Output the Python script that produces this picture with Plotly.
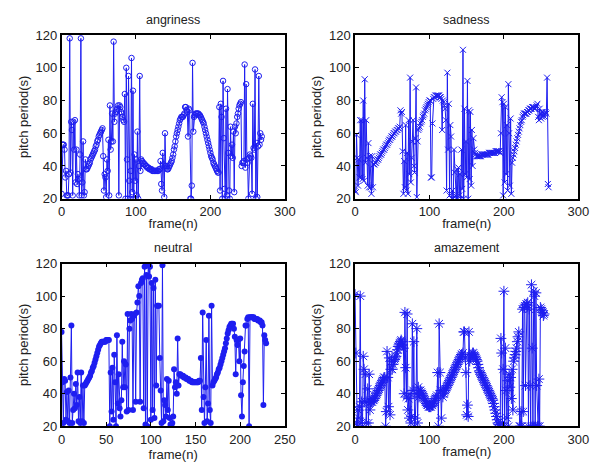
import plotly.graph_objects as go

angriness = [23, 53, 53, 53, 50, 33, 37, 22, 22, 22,
             35, 118, 36, 67, 62, 22, 67, 50, 68, 30,
             50, 29, 35, 32, 22, 47, 118, 22, 30, 55, 22, 24, 44, 38, 38,
             39, 40, 41, 42, 44, 45, 46, 47, 48, 49, 50, 52, 53, 55, 56, 58, 59, 60, 61, 62, 63,
             46, 25, 35, 33, 21, 44, 37, 56, 22, 77, 50, 55, 72, 55,
             116, 67, 72, 73, 74, 75, 77, 22, 77, 76, 73, 72, 70, 68, 67, 84,
             20, 100, 44, 20, 95, 31, 20, 37, 106, 24, 86, 20, 47, 31, 44, 22, 61, 20, 40, 95, 37, 44,
             43, 42, 42, 41, 41, 40, 40, 39, 39, 39, 38, 38, 38, 38, 37, 37, 37, 37, 37, 37, 37, 37, 37, 38, 38,
             43, 29, 25, 48, 41, 21, 60, 40, 39, 38, 38, 39,
             40, 41, 42, 43, 45, 47, 50, 52, 55, 58, 60, 62, 64, 66, 68, 69, 70, 70, 70, 71, 72,
             76, 76, 74, 73, 58, 75, 74, 20, 20, 28, 103, 61,
             70, 71, 72, 72, 72, 72, 72, 71, 71, 70, 69, 68, 67, 66, 64, 62, 60, 58, 56, 54, 52, 50,
             48, 46, 45, 44, 42, 41, 40, 39, 38, 37, 36, 36,
             76, 25, 78, 70, 20, 92, 57, 26, 20, 75, 22, 87, 48, 25, 20, 64, 46, 53, 45, 61,
             24, 64, 60, 66, 70, 72, 75, 77, 78, 79, 40, 42, 42, 43, 102, 39, 90, 44, 42, 20,
             45, 47, 46, 45, 23, 78, 51, 50, 99, 20, 54, 21, 52, 95, 53, 60, 56, 58]

sadness = [25, 24, 59, 45, 28, 44, 33, 68, 33, 68, 32, 80, 31, 93, 42, 68, 45, 28, 54, 27,
           46, 27, 23, 46, 27, 41,
           41, 42, 42, 43, 44, 44, 45, 46, 47, 47, 48, 49, 50, 50, 51, 52, 53, 53, 54, 55,
           56, 56, 57, 58, 58, 59, 60, 60, 61, 61, 62, 62, 63, 63, 64,
           74, 72, 73, 49, 23, 43, 27, 65, 25, 48, 23, 68, 35, 94, 30, 45, 55, 68, 40, 36,
           57, 88, 21, 55, 62,
           63, 64, 66, 67, 68, 70, 71, 72, 74, 75, 76, 77, 78, 79, 80,
           80, 33, 33, 66, 81,
           82, 82, 83, 83, 83, 83, 83, 83, 82, 82, 81,
           62, 80, 79, 77, 75, 68, 25, 97, 50, 78, 22, 65, 58, 20, 25, 20, 50, 36, 22, 20,
           38, 20, 39, 22, 35, 20, 50, 26, 111, 20, 75, 35, 55, 33, 92, 20, 74, 32, 73, 28,
           62, 40, 57, 50, 48,
           47, 46, 46, 46, 46, 46, 46, 46, 47, 47, 47, 47, 47, 47, 47, 47, 47, 47, 48, 48,
           48, 48, 48, 48, 48, 48, 48, 49, 49, 49, 49, 49, 49, 48,
           60, 82, 79, 22, 78, 30, 76, 35, 65, 25, 90, 60, 28, 69, 23, 42,
           45, 47, 49, 51, 53, 55, 57, 59, 61, 63, 65, 67, 68, 70, 71, 72, 72,
           72, 72, 73, 73, 74, 74, 75, 75, 75, 76, 76, 76, 75, 75, 76, 77, 78,
           70, 68, 75, 72, 69, 73, 70, 73, 72, 70, 73, 72, 94, 29, 27]

neutral = [78, 47, 22, 49, 48, 24, 41, 23, 42, 22, 50, 82, 22, 30, 40, 31, 46, 33, 53, 23,
           38, 22, 53, 23, 45, 22, 45,
           46, 47, 48, 49, 50, 51, 53, 54, 56, 57, 59, 61, 63, 65, 67, 69, 70, 71, 72,
           72, 72, 72, 72, 73, 73, 73, 73,
           20, 53, 29, 56, 24, 64, 47, 20, 76, 34, 52, 31, 26, 36, 72, 44, 60, 44, 58, 29,
           89, 30, 80, 85, 89, 86, 30, 88, 89, 35, 90,
           96, 106, 100, 35, 108, 110, 111, 31, 118, 21, 113, 20, 120, 112, 118, 24, 108, 30,
           105, 25, 110, 45, 94, 94, 94, 62, 42, 22, 119, 23,
           36, 33, 26, 49, 30, 48, 25, 21, 20, 22, 26, 55, 44, 47, 40, 74, 45, 52, 52, 51,
           51, 51, 50, 50, 50, 49, 49, 49, 48, 48, 48, 47, 47, 47, 47, 47, 47, 47, 47, 48, 48,
           62, 30, 90, 38, 22, 44, 73, 23, 34, 88, 30, 22, 94, 45, 47, 48, 49,
           50, 52, 53, 55, 56, 58, 60, 62, 64, 66, 68, 71, 74, 77, 79, 81, 82, 83,
           83, 83, 80, 75, 52, 73, 70, 73, 60, 74, 39, 26, 47, 57, 66, 82, 82, 86, 87, 20, 87,
           87, 87, 87, 87, 86, 86, 86, 86, 85, 85, 85, 84, 84, 82,
           33, 76, 73, 71]

amazement = [101, 65, 22, 20, 30, 25, 32, 100, 22, 35, 20, 63, 55, 35, 52, 22, 35, 43, 22, 52, 30,
             35, 35, 35, 36, 36, 37, 38, 39, 40, 41, 42, 43, 44, 45, 46, 47, 48, 49, 50, 50,
             20, 29, 66, 50, 32, 62, 27, 55, 60, 55, 58,
             60, 61, 62, 63, 65, 67, 69, 70, 71, 72, 73, 72, 70, 68,
             40, 90, 56, 38, 89, 30, 37, 25, 40, 22, 26, 83, 42, 72, 20, 25, 40, 80, 22, 44, 38, 40,
             42, 41, 40, 39, 38, 37, 36, 35, 34, 33, 33, 32, 32, 32, 32, 33, 33, 34, 35, 36, 37, 38, 39,
             53, 20, 83, 53, 42, 25, 42, 38,
             40, 41, 42, 43, 44, 45, 46, 47, 48, 49, 50, 51, 52, 53, 54, 55, 56, 57, 58, 59,
             60, 61, 62, 63, 64, 64, 65,
             78, 78, 62, 53, 27, 33, 26, 78, 60, 62,
             63, 64, 65, 65, 64, 63, 62, 61, 60, 58, 56,
             54, 53, 52, 51, 50, 49, 48, 47, 46, 45, 44, 43, 42, 41, 40, 39, 38, 37, 36, 34,
             32, 30, 28, 26, 24, 22, 21, 20, 20,
             74, 65, 22, 55, 103, 20, 68, 42, 25, 48, 20, 52, 44, 50, 37, 55, 30, 60, 62, 64,
             66, 68, 72, 75, 78,
             20, 20, 29, 20, 92, 29, 93, 94, 45, 95, 95, 96, 20, 92, 45, 20, 107, 68, 20, 103,
             100, 20, 102, 45, 20, 20, 49, 20, 93, 92, 91, 90, 88, 89]

titles = ["angriness", "sadness", "neutral", "amazement"]
series = [angriness, sadness, neutral, amazement]
xranges = [[0, 300], [0, 300], [0, 250], [0, 300]]
xticks = [[0, 100, 200, 300], [0, 100, 200, 300], [0, 50, 100, 150, 200, 250], [0, 100, 200, 300]]
yticks = [20, 40, 60, 80, 100, 120]

W, H = 603, 472
FONT = "Liberation Sans, Arial, sans-serif"
BLUE = "rgb(30,30,240)"

# pixel boxes: left, right, top, bottom
boxes = [(59, 288, 29, 198), (360, 589, 29, 198), (59, 288, 265, 433), (360, 589, 265, 433)]
markers = [
    dict(symbol="circle-open", size=5.5, color=BLUE, line=dict(width=1, color=BLUE)),
    dict(symbol="x-thin-open", size=6, color=BLUE, line=dict(width=1, color=BLUE)),
    dict(symbol="circle", size=6, color=BLUE, line=dict(width=0)),
    dict(symbol="asterisk-open", size=9, color=BLUE, line=dict(width=1, color=BLUE)),
]

fig = go.Figure()
layout = dict(width=W, height=H, margin=dict(l=0, r=0, t=0, b=0),
              paper_bgcolor="white", plot_bgcolor="white", showlegend=False,
              font=dict(family=FONT, size=13, color="#222"))
annotations = []
for i in range(4):
    l, r, t, b = boxes[i]
    xa = "x" if i == 0 else f"x{i+1}"
    ya = "y" if i == 0 else f"y{i+1}"
    ys = series[i]
    fig.add_trace(go.Scatter(x=list(range(len(ys))), y=ys, mode="lines+markers",
                             line=dict(color=BLUE, width=1), marker=markers[i],
                             xaxis=xa, yaxis=ya, cliponaxis=True))
    axk = "xaxis" if i == 0 else f"xaxis{i+1}"
    ayk = "yaxis" if i == 0 else f"yaxis{i+1}"
    layout[axk] = dict(domain=[l / W, r / W], anchor=ya, range=xranges[i],
                       tickvals=xticks[i], ticks="inside", ticklen=4, tickcolor="black",
                       showline=True, linecolor="black", linewidth=1.5, mirror="ticks",
                       showgrid=False, zeroline=False, tickfont=dict(size=13, family=FONT),
                       title=dict(text="frame(n)", font=dict(size=13, family=FONT), standoff=1))
    layout[ayk] = dict(domain=[1 - b / H, 1 - t / H], anchor=xa, range=[20, 120],
                       tickvals=yticks, ticks="inside", ticklen=4, tickcolor="black",
                       showline=True, linecolor="black", linewidth=1.5, mirror="ticks",
                       showgrid=False, zeroline=False, tickfont=dict(size=13, family=FONT),
                       title=dict(text="pitch period(s)", font=dict(size=13, family=FONT), standoff=4))
    annotations.append(dict(text=titles[i], x=(l + r) / 2 / W, y=1 - (t - 16) / H,
                            xref="paper", yref="paper", xanchor="center", yanchor="middle",
                            showarrow=False, font=dict(size=12.5, family=FONT, color="#222")))
layout["annotations"] = annotations
fig.update_layout(**layout)
fig.write_html("out.html")
